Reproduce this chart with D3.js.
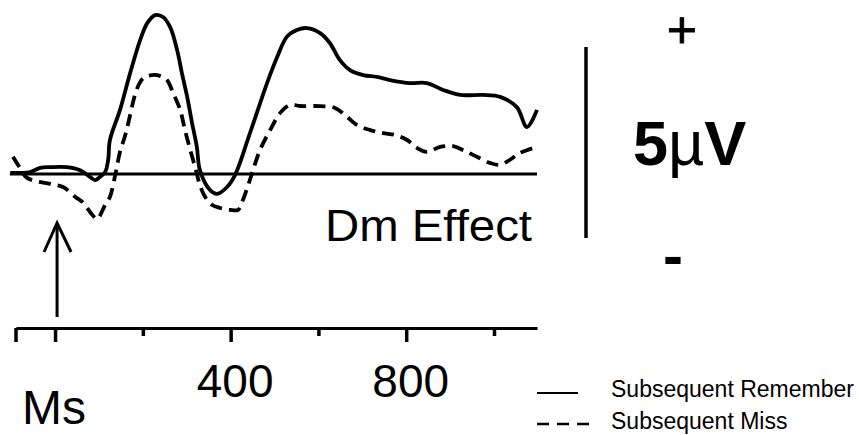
<!DOCTYPE html>
<html><head><meta charset="utf-8">
<script src="https://cdn.jsdelivr.net/npm/d3@7"></script>
<style>
body{margin:0;background:#fff}
svg{display:block}
text{font-family:"Liberation Sans",Arial,Helvetica,sans-serif;fill:#000}
</style>
</head><body>
<svg id="chart" width="859" height="435"></svg>
<script>
// ---- data (time in ms, amplitude in µV) ----
const rememberTime = [-102,-80,-57,-34,-11,27,57,80,91,102,114,121,125,148,171,194,210,228,246,262,278,289,301,312,323,330,353,369,392,410,444,483,506,528,551,574,604,626,649,672,702,733,763,809,847,884,923,975,1014,1052,1075,1098];
const rememberValue = [0.03,0.03,0.05,0.16,0.18,0.18,0.10,-0.08,-0.16,-0.08,0.05,0.37,0.89,1.68,2.64,3.51,3.95,4.16,4.11,3.85,3.25,2.64,2.02,1.34,0.71,0.10,-0.42,-0.52,-0.34,-0.03,1.07,2.38,3.06,3.59,3.77,3.82,3.69,3.43,2.98,2.72,2.59,2.54,2.46,2.38,2.38,2.20,2.07,2.07,2.02,1.75,1.23,1.68];
const missTime = [-96,-80,-64,-11,18,46,62,87,96,114,125,137,148,160,171,182,194,205,221,239,255,269,285,296,308,321,330,342,358,376,399,417,428,440,451,467,490,513,535,558,592,638,661,688,718,747,775,802,825,847,877,907,929,961,991,1014,1036,1059,1098];
const missValue = [0.45,0.16,-0.10,-0.26,-0.34,-0.60,-0.73,-1.10,-1.18,-0.81,-0.60,-0.03,0.58,1.02,1.54,2.07,2.41,2.54,2.59,2.57,2.46,2.12,1.68,1.15,0.63,0.10,-0.29,-0.60,-0.81,-0.89,-0.94,-0.94,-0.68,-0.29,0.10,0.63,1.15,1.60,1.81,1.78,1.78,1.73,1.54,1.28,1.15,1.07,1.02,0.89,0.68,0.58,0.71,0.73,0.63,0.45,0.29,0.24,0.37,0.55,0.71];
const majorTicks = [0, 400, 800];
const majorTickLabels = ["", "400", "800"];
const minorTicks = [200, 600, 1000];
const seriesNames = ["Subsequent Remember", "Subsequent Miss"];
const timeDomain = [-89, 1098];
const scaleBarMicrovolts = 5;

// ---- layout ----
const svg = d3.select("#chart");
const x = d3.scaleLinear().domain(timeDomain).range([16, 537]);
const y = d3.scaleLinear().domain([0, 5]).range([174, -17]);
const axisY = 328;

const remember = rememberTime.map((t, i) => ({t, v: rememberValue[i]}));
const miss = missTime.map((t, i) => ({t, v: missValue[i]}));

// zero baseline
svg.append("line")
  .attr("x1", x(-103)).attr("x2", x(1098))
  .attr("y1", y(0)).attr("y2", y(0))
  .attr("stroke", "#000").attr("stroke-width", 3);

const line = d3.line().x(d => x(d.t)).y(d => y(d.v)).curve(d3.curveCatmullRom.alpha(0.5));

svg.append("path").datum(miss)
  .attr("d", line).attr("fill", "none").attr("stroke", "#000")
  .attr("stroke-width", 3.8).attr("stroke-dasharray", "12,7");

svg.append("path").datum(remember)
  .attr("d", line).attr("fill", "none").attr("stroke", "#000")
  .attr("stroke-width", 3.8).attr("stroke-linejoin", "round");

// x axis
const gAxis = svg.append("g").attr("transform", `translate(0,${axisY})`);
gAxis.call(d3.axisBottom(x).tickValues(majorTicks).tickSize(14).tickSizeOuter(0)
  .tickFormat((d, i) => majorTickLabels[i]));
gAxis.append("g").call(d3.axisBottom(x).tickValues(minorTicks).tickSize(8).tickSizeOuter(0).tickFormat(""))
  .select(".domain").remove();
gAxis.selectAll(".domain").attr("stroke", "#000").attr("stroke-width", 3);
gAxis.selectAll(".tick line").attr("stroke", "#000").attr("stroke-width", 3.5);
gAxis.append("line").attr("x1", x(timeDomain[0])).attr("x2", x(timeDomain[0]))
  .attr("y1", 0).attr("y2", 14).attr("stroke", "#000").attr("stroke-width", 3.5);
gAxis.selectAll(".tick text")
  .attr("y", 69).attr("dy", 0).attr("dx", 4)
  .style("font-family", "'Liberation Sans',Arial,sans-serif")
  .style("font-size", "46px").attr("fill", "#000");

// "Ms" label
svg.append("text").attr("x", 22).attr("y", 424)
  .style("font-size", "48px").text("Ms");

// stimulus onset arrow
const ax = x(0) + 2;
svg.append("line").attr("x1", ax).attr("x2", ax).attr("y1", 317).attr("y2", 225)
  .attr("stroke", "#000").attr("stroke-width", 3);
svg.append("path").attr("d", `M${ax-13},252 L${ax},223 L${ax+14},252`)
  .attr("fill", "none").attr("stroke", "#000").attr("stroke-width", 3);

// Dm Effect label
svg.append("text").attr("x", 325).attr("y", 241)
  .attr("textLength", 207).attr("lengthAdjust", "spacingAndGlyphs")
  .style("font-size", "44px").text("Dm Effect");

// scale bar
const barTop = 47;
svg.append("line").attr("x1", 586).attr("x2", 586)
  .attr("y1", barTop).attr("y2", barTop + (y(0) - y(scaleBarMicrovolts)))
  .attr("stroke", "#000").attr("stroke-width", 3.5);
svg.append("text").attr("x", 682).attr("y", 47.5).attr("text-anchor", "middle")
  .style("font-size", "52px").attr("stroke", "#000").attr("stroke-width", 0.8).text("+");
const lab = svg.append("text").attr("x", 633).attr("y", 165)
  .style("font-size", "63px").style("font-weight", "bold");
lab.append("tspan").text("5");
lab.append("tspan").style("font-weight", "normal").text("\u00b5");
lab.append("tspan").text("V");
svg.append("text").attr("x", 673).attr("y", 276).attr("text-anchor", "middle")
  .style("font-size", "60px").style("font-weight", "bold").text("-");

// legend
const legend = svg.append("g");
legend.append("line").attr("x1", 537).attr("x2", 578).attr("y1", 393).attr("y2", 393)
  .attr("stroke", "#000").attr("stroke-width", 2);
legend.append("line").attr("x1", 537).attr("x2", 589).attr("y1", 424).attr("y2", 424)
  .attr("stroke", "#000").attr("stroke-width", 2.5).attr("stroke-dasharray", "12,8");
legend.append("text").attr("x", 611).attr("y", 397).style("font-size", "23px").text(seriesNames[0]);
legend.append("text").attr("x", 611).attr("y", 429).style("font-size", "23px").text(seriesNames[1]);
</script>
</body></html>
